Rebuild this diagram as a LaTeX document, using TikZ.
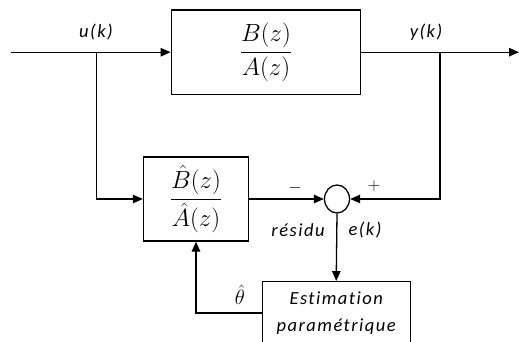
\documentclass[tikz,border=0pt]{standalone}
\usepackage{amsmath}
\usepackage{fontspec}
\setmainfont{Carlito}
\newfontfamily\lblfont[LetterSpace=8,RawFeature={-liga;-clig;-dlig}]{Carlito}
\usetikzlibrary{arrows.meta,shapes.geometric}
\tikzset{
  blk/.style={draw,line width=1.3pt,inner sep=0pt,font=\fontsize{23}{26}\selectfont},
  wire/.style={line width=1.3pt},
  arr/.style={wire,-{Triangle[length=10pt,width=8.5pt]}},
  lbl/.style={font=\lblfont\itshape\fontsize{18.5}{27}\selectfont,inner sep=0pt},
  sgn/.style={font=\fontsize{18}{20}\selectfont,inner sep=0pt}
}
\begin{document}
\begin{tikzpicture}[x=1pt,y=-1pt]
\clip (0,0) rectangle (519,342);
\node[blk,minimum width=189.5pt,minimum height=84.3pt] (plant) at (266,52.2) {$\dfrac{B(z)}{A(z)}$};
\node[blk,minimum width=105pt,minimum height=84pt] (model) at (196,199) {$\dfrac{\hat{B}(z)}{\hat{A}(z)}$};
\node[draw,ellipse,line width=1.3pt,minimum width=25pt,minimum height=28pt,inner sep=0pt] (sum) at (337,199) {};
\node[blk,lbl,align=center,minimum width=148pt,minimum height=62.6pt] (est) at (336.2,313) {Estimation\\paramétrique};
\coordinate (in) at (11,52.2);
\coordinate (out) at (519,52.2);
\coordinate (bu) at (96.7,52.2);
\coordinate (by) at (440,52.2);
\draw[arr] (in) -- (plant.west);
\draw[arr] (plant.east) -- (out);
\draw[arr] (bu) |- (model.west);
\draw[arr] (by) |- (sum.east);
\draw[arr] (model.east) -- (sum.west);
\draw[arr] (sum.south) -- (est.north);
\draw[arr] (est.west) -| (model.south);
\node[lbl] (lu) at (96,32) {u(k)};
\node[lbl] (ly) at (426,32) {y(k)};
\node[lbl] (lres) at (298,230) {résidu};
\node[lbl] (le) at (365,230) {e(k)};
\node[sgn] (lm) at (295,188) {$-$};
\node[sgn] (lp) at (374,186) {$+$};
\node[font=\fontsize{22}{24}\selectfont,inner sep=0pt] (lth) at (240,295) {$\hat{\theta}$};
\end{tikzpicture}
\end{document}
